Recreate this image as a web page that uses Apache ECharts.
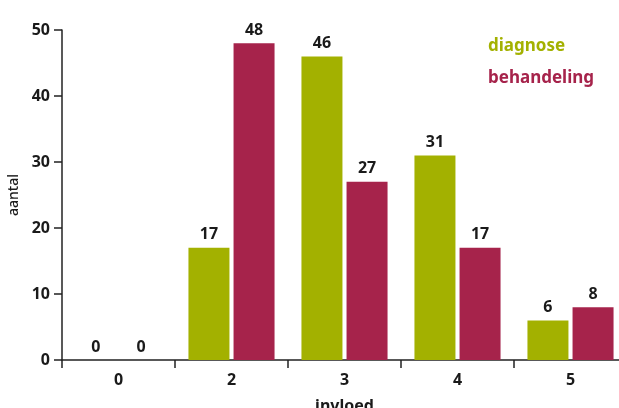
<!DOCTYPE html>
<html><head><meta charset="utf-8">
<script src="https://cdn.jsdelivr.net/npm/echarts@6/dist/echarts.min.js"></script>
<style>html,body{margin:0;padding:0;background:#fff}#c{width:619px;height:408px}</style>
</head><body><div id="c"></div>
<script>
var categories = ['0', '2', '3', '4', '5'];
var diagnose = [0, 17, 46, 31, 6];
var behandeling = [0, 48, 27, 17, 8];
var yTicks = [0, 10, 20, 30, 40, 50];

var FONT = '"Noto Sans", "DejaVu Sans", sans-serif';
var green = '#a3b100', red = '#a6234b';
var chart = echarts.init(document.getElementById('c'));
var lbl = {show: true, position: 'top', distance: 5, color: '#1a1a1a', fontWeight: 'bold', fontSize: 16, fontFamily: FONT};
chart.setOption({
  animation: false,
  grid: {left: 62, top: 30, right: -8, bottom: 48, containLabel: false, outerBoundsMode: 'none'},
  legend: {
    orient: 'vertical', left: 478, top: 33, itemGap: 15, itemWidth: 0, itemHeight: 0,
    icon: 'rect', selectedMode: false,
    data: [
      {name: 'diagnose', textStyle: {color: green}},
      {name: 'behandeling', textStyle: {color: red}}
    ],
    textStyle: {fontSize: 17, fontWeight: 'bold', fontFamily: FONT}
  },
  xAxis: {
    type: 'category', data: categories,
    name: 'invloed', nameLocation: 'middle', nameGap: 38,
    nameTextStyle: {fontSize: 16, fontWeight: 'bold', color: '#1a1a1a', fontFamily: FONT},
    axisLine: {lineStyle: {color: '#222', width: 1.5}},
    axisTick: {show: true, length: 8, lineStyle: {color: '#222', width: 1.5}},
    axisLabel: {fontSize: 16, fontWeight: 'bold', color: '#1a1a1a', fontFamily: FONT, margin: 12}
  },
  yAxis: {
    type: 'value', min: yTicks[0], max: yTicks[yTicks.length - 1], interval: 10,
    name: 'aantal', nameLocation: 'middle', nameGap: 38, nameRotate: 90,
    nameTextStyle: {fontSize: 14, fontWeight: 500, color: '#1a1a1a', fontFamily: FONT},
    axisLine: {show: true, lineStyle: {color: '#222', width: 1.5}},
    axisTick: {show: true, length: 8, lineStyle: {color: '#222', width: 1.5}},
    splitLine: {show: false},
    axisLabel: {fontSize: 16, fontWeight: 'bold', color: '#1a1a1a', fontFamily: FONT, margin: 12}
  },
  series: [
    {name: 'diagnose', type: 'bar', data: diagnose, barWidth: 41, barGap: '10%', itemStyle: {color: green}, label: lbl},
    {name: 'behandeling', type: 'bar', data: behandeling, barWidth: 41, barGap: '10%', itemStyle: {color: red}, label: lbl}
  ]
});
</script></body></html>
